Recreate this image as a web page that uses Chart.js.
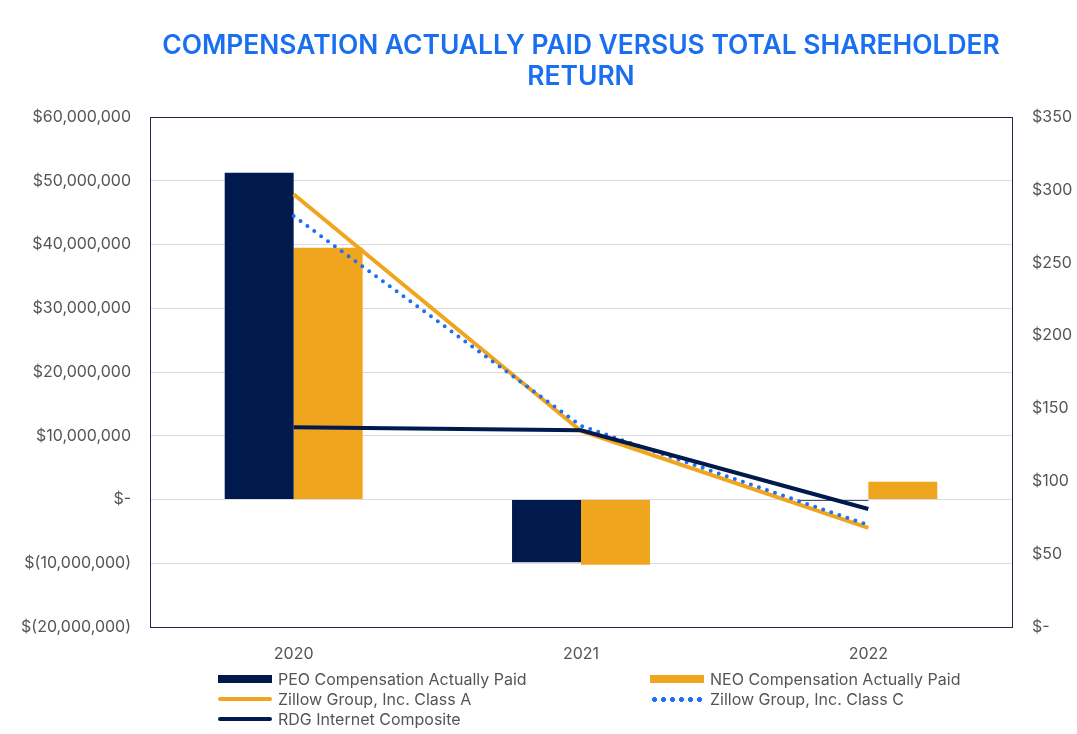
<!DOCTYPE html>
<html>
<head>
<meta charset="utf-8">
<script src="https://cdn.jsdelivr.net/npm/chart.js@4"></script>
<style>
    body { margin: 0; background: #fff; }
    #wrap { position: relative; width: 1077px; height: 734px; font-family: Inter, 'Noto Sans', sans-serif; }
    #title { position: absolute; left: 150px; width: 862px; top: 29px; text-align: center;
        color: #1a6ff0; font-weight: 600; font-size: 26.4px; line-height: 31px; }
    #chart { position: absolute; left: 0; top: 0; }
    .leg { position: absolute; display: flex; align-items: center; font-size: 16px; color: #555; height: 20px; }
    .leg .mk { width: 54px; margin-right: 6px; }
</style>
</head>
<body>
<div id="wrap">
    <canvas id="chart" width="1077" height="734"></canvas>
    <div id="title">COMPENSATION ACTUALLY PAID VERSUS TOTAL SHAREHOLDER<br>RETURN</div>
    <div id="legend"></div>
</div>
<script>
const years = ['2020', '2021', '2022'];
const peoPaid = [51250000, -9830000, -200000];
const neoPaid = [39500000, -10250000, 2780000];
const zillowClassA = [297, 134.5, 68];
const zillowClassC = [282, 138, 70];
const rdgInternet = [137, 135, 81];

const navy = '#001a4d';
const orange = '#f0a51e';
const blue = '#1f6ff2';

function leftTick(v) {
    if (v === 0) return '$-';
    const s = Math.abs(v).toLocaleString('en-US');
    return v < 0 ? '$(' + s + ')' : '$' + s;
}

function rightTick(v) {
    return v === 0 ? '$-' : '$' + v;
}

const frame = {
    id: 'frame',
    afterDatasetsDraw(chart) {
        const a = chart.chartArea;
        const ctx = chart.ctx;
        ctx.save();
        ctx.strokeStyle = '#1c2a45';
        ctx.lineWidth = 1;
        ctx.strokeRect(Math.round(a.left) + 0.5, Math.round(a.top) + 0.5,
            Math.round(a.right - a.left), Math.round(a.bottom - a.top));
        ctx.restore();
    }
};

const tickFont = { family: "Inter, 'Noto Sans', sans-serif", size: 16 };

const chart = new Chart(document.getElementById('chart'), {
    type: 'bar',
    data: {
        labels: years,
        datasets: [
            { label: 'PEO Compensation Actually Paid', data: peoPaid, backgroundColor: navy, yAxisID: 'y', order: 10,
              categoryPercentage: 0.48, barPercentage: 1 },
            { label: 'NEO Compensation Actually Paid', data: neoPaid, backgroundColor: orange, yAxisID: 'y', order: 10,
              categoryPercentage: 0.48, barPercentage: 1 },
            { type: 'line', label: 'Zillow Group, Inc. Class A', data: zillowClassA, borderColor: orange,
              borderWidth: 4, pointRadius: 0, yAxisID: 'y1', order: 2, tension: 0 },
            { type: 'line', label: 'Zillow Group, Inc. Class C', data: zillowClassC, borderColor: blue,
              borderWidth: 4, borderDash: [0, 8.5], borderCapStyle: 'round', pointRadius: 0, yAxisID: 'y1', order: 1, tension: 0 },
            { type: 'line', label: 'RDG Internet Composite', data: rdgInternet, borderColor: navy,
              borderWidth: 4, pointRadius: 0, yAxisID: 'y1', order: 0, tension: 0 }
        ]
    },
    options: {
        responsive: false,
        animation: false,
        layout: { padding: { top: 117, bottom: 67, left: 0, right: 0 } },
        plugins: { legend: { display: false }, tooltip: { enabled: false } },
        scales: {
            x: {
                grid: { display: false },
                border: { display: false },
                ticks: { color: '#555', font: tickFont, padding: 10 },
                afterFit: s => { s.height = 40; }
            },
            y: {
                position: 'left',
                min: -20000000,
                max: 60000000,
                ticks: { stepSize: 10000000, color: '#555', font: tickFont, padding: 19, callback: leftTick },
                grid: { color: '#dcdcdc', drawTicks: false },
                border: { display: false },
                afterFit: s => { s.width = 150; }
            },
            y1: {
                position: 'right',
                min: 0,
                max: 350,
                ticks: { stepSize: 50, color: '#555', font: tickFont, padding: 20, callback: rightTick },
                grid: { display: false, drawTicks: false },
                border: { display: false },
                afterFit: s => { s.width = 65; }
            }
        }
    },
    plugins: [frame]
});

// two-column legend under the plot
const legendPos = [
    [218, 679], [650, 679],
    [218, 699], [650, 699],
    [218, 719]
];
const legendEl = document.getElementById('legend');
chart.data.datasets.forEach((ds, i) => {
    const item = document.createElement('div');
    item.className = 'leg';
    item.style.left = legendPos[i][0] + 'px';
    item.style.top = (legendPos[i][1] - 10) + 'px';
    const mk = document.createElement('div');
    mk.className = 'mk';
    if (ds.type !== 'line') {
        mk.style.height = '8px';
        mk.style.background = ds.backgroundColor;
    } else if (ds.borderDash) {
        mk.style.height = '5px';
        mk.style.background = 'radial-gradient(circle, ' + ds.borderColor + ' 2.2px, transparent 2.6px) 0 0 / 9px 5px repeat-x';
    } else {
        mk.style.height = '4px';
        mk.style.borderRadius = '2px';
        mk.style.background = ds.borderColor;
    }
    const txt = document.createElement('span');
    txt.textContent = ds.label;
    item.appendChild(mk);
    item.appendChild(txt);
    legendEl.appendChild(item);
});
</script>
</body>
</html>
